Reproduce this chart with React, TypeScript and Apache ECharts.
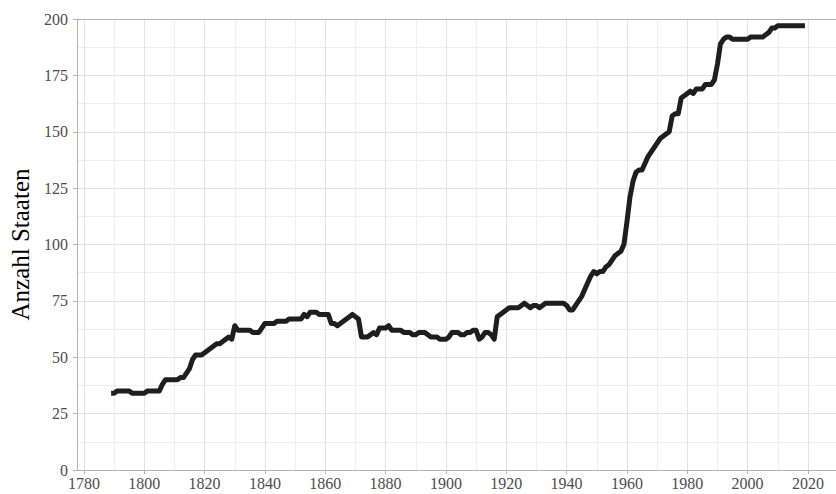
import React, { useEffect, useRef } from "react";
import * as echarts from "echarts";

// Anzahl Staaten, one value per year starting in FIRST_YEAR
const FIRST_YEAR = 1789;
const states1789to1829 = [
  34, 34, 35, 35, 35, 35, 35, 34, 34, 34, 34,
  34, 35, 35, 35, 35, 35, 38, 40, 40, 40,
  40, 40, 41, 41, 43, 45, 49, 51, 51, 51,
  52, 53, 54, 55, 56, 56, 57, 58, 59, 58,
];
const states1830to1879 = [
  64, 62, 62, 62, 62, 62, 61, 61, 61, 63,
  65, 65, 65, 65, 66, 66, 66, 66, 67, 67,
  67, 67, 67, 69, 68, 70, 70, 70, 69, 69,
  69, 69, 65, 65, 64, 65, 66, 67, 68, 69,
  68, 67, 59, 59, 59, 60, 61, 60, 63, 63,
];
const states1880to1929 = [
  63, 64, 62, 62, 62, 62, 61, 61, 61, 60,
  60, 61, 61, 61, 60, 59, 59, 59, 58, 58,
  58, 59, 61, 61, 61, 60, 60, 61, 61, 62,
  62, 58, 59, 61, 61, 60, 58, 68, 69, 70,
  71, 72, 72, 72, 72, 73, 74, 73, 72, 73,
];
const states1930to1979 = [
  73, 72, 73, 74, 74, 74, 74, 74, 74, 74,
  73, 71, 71, 73, 75, 77, 80, 83, 86, 88,
  87, 88, 88, 90, 91, 93, 95, 96, 97, 100,
  110, 121, 128, 132, 133, 133, 136, 139, 141, 143,
  145, 147, 148, 149, 150, 157, 158, 158, 165, 166,
];
const states1980to2019 = [
  167, 168, 167, 169, 169, 169, 171, 171, 171, 173,
  180, 189, 191, 192, 192, 191, 191, 191, 191, 191,
  191, 192, 192, 192, 192, 192, 193, 194, 196, 196,
  197, 197, 197, 197, 197, 197, 197, 197, 197, 197,
];

const stateCounts = [
  ...states1789to1829,
  ...states1830to1879,
  ...states1880to1929,
  ...states1930to1979,
  ...states1980to2019,
];

const xLabelYears = [1780, 1800, 1820, 1840, 1860, 1880, 1900, 1920, 1940, 1960, 1980, 2000, 2020];
const xMinorYears = [1790, 1810, 1830, 1850, 1870, 1890, 1910, 1930, 1950, 1970, 1990, 2010];

const FONT = "'Liberation Serif', 'Times New Roman', serif";

export default function App() {
  const ref = useRef<HTMLDivElement>(null);

  useEffect(() => {
    if (!ref.current) return;
    const chart = echarts.init(ref.current, null, { renderer: "svg" });
    const seriesData = stateCounts.map((v, i) => [FIRST_YEAR + i, v]);
    const xMin = 1777.7;
    const xMax = 2029.3;
    chart.setOption({
      animation: false,
      backgroundColor: "#ffffff",
      grid: { left: 71, right: 0, top: 19, bottom: 24, containLabel: false },
      xAxis: [
        {
          type: "value",
          min: xMin,
          max: xMax,
          position: "bottom",
          axisLine: { show: true, onZero: false, lineStyle: { color: "#b3b3b3", width: 1 } },
          axisTick: {
            show: true,
            length: 4,
            customValues: xLabelYears,
            lineStyle: { color: "#b3b3b3", width: 1 },
          },
          axisLabel: {
            show: true,
            customValues: xLabelYears,
            fontFamily: FONT,
            fontSize: 16,
            color: "#4d4d4d",
            margin: 5,
            formatter: (v: number) => String(Math.round(v)),
          },
          splitLine: { show: true, lineStyle: { color: "#e3e3e3", width: 1 } },
        },
        {
          type: "value",
          min: xMin,
          max: xMax,
          position: "top",
          axisLine: { show: true, onZero: false, lineStyle: { color: "#b3b3b3", width: 1 } },
          axisTick: { show: false, customValues: xMinorYears },
          axisLabel: { show: false, customValues: xMinorYears },
          splitLine: { show: true, lineStyle: { color: "#eeeeee", width: 1 } },
        },
      ],
      yAxis: {
        type: "value",
        min: 0,
        max: 200,
        interval: 25,
        name: "Anzahl Staaten",
        nameLocation: "middle",
        nameGap: 44,
        nameTextStyle: { fontFamily: FONT, fontSize: 25, color: "#000000" },
        axisLine: { show: true, lineStyle: { color: "#b3b3b3", width: 1 } },
        axisTick: { show: true, length: 4, lineStyle: { color: "#b3b3b3", width: 1 } },
        axisLabel: { fontFamily: FONT, fontSize: 16, color: "#4d4d4d", margin: 9 },
        splitLine: { show: true, lineStyle: { color: "#e3e3e3", width: 1 } },
        minorTick: { show: false, splitNumber: 2 },
        minorSplitLine: { show: true, lineStyle: { color: "#eeeeee", width: 1 } },
      },
      series: [
        {
          type: "line",
          xAxisIndex: 0,
          yAxisIndex: 0,
          data: seriesData,
          showSymbol: false,
          symbol: "none",
          lineStyle: { color: "#1e1e1e", width: 5, join: "round", cap: "butt" },
          z: 5,
        },
      ],
    });
    return () => chart.dispose();
  }, []);

  return (
    <div
      ref={ref}
      style={{ position: "fixed", left: 0, top: 0, width: 836, height: 494, background: "#fff" }}
    />
  );
}
